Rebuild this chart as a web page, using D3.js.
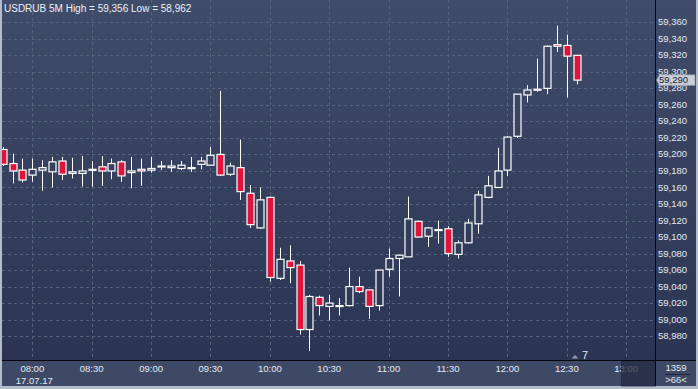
<!DOCTYPE html>
<html>
<head>
<meta charset="utf-8">
<script src="https://cdn.jsdelivr.net/npm/d3@7"></script>
<style>
  html, body { margin: 0; padding: 0; background: #b4bcc9; }
  svg { display: block; font-family: "Liberation Sans", Arial, sans-serif; }
</style>
</head>
<body>
<svg id="chart" width="698" height="389"></svg>
<script>
"use strict";

// USDRUB 5-minute candles, 17.07.17 07:45 .. 12:35
const startTime = new Date(2017, 6, 17, 7, 45);
const opens = [
  59.206, 59.189, 59.181, 59.175, 59.181, 59.179, 59.192, 59.177, 59.177, 59.181,
  59.185, 59.180, 59.191, 59.178, 59.182, 59.181, 59.186, 59.184, 59.183, 59.184,
  59.188, 59.187, 59.200, 59.176, 59.184, 59.153, 59.111, 59.148, 59.050, 59.071,
  59.066, 58.988, 59.027, 59.016, 59.017, 59.017, 59.040, 59.036, 59.017, 59.061,
  59.074, 59.076, 59.119, 59.101, 59.109, 59.110, 59.079, 59.093, 59.116, 59.148,
  59.160, 59.181, 59.222, 59.272, 59.278, 59.280, 59.333, 59.332, 59.320
];
const highs = [
  59.209, 59.201, 59.195, 59.195, 59.193, 59.197, 59.197, 59.196, 59.198, 59.192,
  59.198, 59.195, 59.193, 59.197, 59.195, 59.197, 59.192, 59.193, 59.192, 59.197,
  59.197, 59.209, 59.277, 59.190, 59.218, 59.163, 59.160, 59.149, 59.087, 59.090,
  59.071, 59.030, 59.029, 59.030, 59.026, 59.063, 59.052, 59.036, 59.060, 59.086,
  59.078, 59.149, 59.120, 59.112, 59.120, 59.113, 59.096, 59.122, 59.156, 59.174,
  59.208, 59.222, 59.273, 59.284, 59.316, 59.332, 59.356, 59.345, 59.320
];
const lows = [
  59.186, 59.165, 59.166, 59.167, 59.156, 59.160, 59.169, 59.171, 59.161, 59.161,
  59.162, 59.170, 59.167, 59.159, 59.162, 59.178, 59.181, 59.179, 59.181, 59.179,
  59.182, 59.187, 59.174, 59.174, 59.145, 59.111, 59.110, 59.046, 59.048, 59.044,
  58.982, 58.962, 59.005, 58.999, 59.005, 59.016, 59.032, 59.001, 59.011, 59.052,
  59.028, 59.076, 59.100, 59.088, 59.092, 59.076, 59.074, 59.092, 59.104, 59.147,
  59.160, 59.174, 59.220, 59.263, 59.276, 59.273, 59.324, 59.269, 59.285
];
const closes = [
  59.188, 59.180, 59.169, 59.182, 59.184, 59.191, 59.176, 59.179, 59.180, 59.182,
  59.180, 59.189, 59.174, 59.180, 59.180, 59.183, 59.186, 59.186, 59.187, 59.184,
  59.192, 59.199, 59.175, 59.186, 59.155, 59.115, 59.145, 59.051, 59.073, 59.063,
  58.988, 59.028, 59.017, 59.020, 59.017, 59.040, 59.034, 59.016, 59.060, 59.074,
  59.078, 59.122, 59.100, 59.111, 59.109, 59.080, 59.093, 59.117, 59.151, 59.162,
  59.180, 59.221, 59.273, 59.278, 59.279, 59.331, 59.331, 59.319, 59.290
];

const yTicks = [58.98, 59.00, 59.02, 59.04, 59.06, 59.08, 59.10, 59.12, 59.14, 59.16,
  59.18, 59.20, 59.22, 59.24, 59.26, 59.28, 59.30, 59.32, 59.34, 59.36];
const xTickLabels = ["08:00", "08:30", "09:00", "09:30", "10:00", "10:30",
  "11:00", "11:30", "12:00", "12:30", "13:00"];
const dateLabel = "17.07.17";
const title = "USDRUB 5M High = 59,356 Low = 58,962";
const lastPrice = 59.290;

const W = 698, H = 389;
const plot = { left: 2, right: 655.5, top: 0, bottom: 360.5 };
const frame = { right: 696, bottom: 386 };

const svg = d3.select("#chart");
const defs = svg.append("defs");

// one gradient in user space, so hollow candle bodies blend into the background
const grad = defs.append("linearGradient")
  .attr("id", "bg").attr("gradientUnits", "userSpaceOnUse")
  .attr("x1", 0).attr("y1", 0).attr("x2", 0).attr("y2", plot.bottom);
grad.append("stop").attr("offset", "0%").attr("stop-color", "#3f4c6a");
grad.append("stop").attr("offset", "100%").attr("stop-color", "#2b3553");

defs.append("clipPath").attr("id", "plotClip")
  .append("rect")
  .attr("x", plot.left).attr("y", plot.top)
  .attr("width", plot.right - plot.left).attr("height", plot.bottom - plot.top);

// outer light frame + panels
svg.append("rect").attr("width", W).attr("height", H).attr("fill", "#b4bcc9");
svg.append("rect")
  .attr("x", plot.left).attr("y", 0)
  .attr("width", frame.right - plot.left).attr("height", plot.bottom)
  .attr("fill", "url(#bg)");
svg.append("rect")
  .attr("x", plot.left).attr("y", plot.bottom)
  .attr("width", frame.right - plot.left).attr("height", frame.bottom - plot.bottom)
  .attr("fill", "#3e4a65");

const parse = d3.timeParse("%H:%M");
const toDay = s => {
  const t = parse(s);
  return new Date(2017, 6, 17, t.getHours(), t.getMinutes());
};

const x = d3.scaleTime()
  .domain([new Date(2017, 6, 17, 7, 45, 12), new Date(2017, 6, 17, 13, 14, 48)])
  .range([plot.left + 1, plot.right]);
const y = d3.scaleLinear()
  .domain([58.9505, 59.387])
  .range([plot.bottom, plot.top]);

const candles = opens.map((o, i) => ({
  t: d3.timeMinute.offset(startTime, 5 * i),
  o, h: highs[i], l: lows[i], c: closes[i]
}));

const fmt = v => d3.format(".3f")(v).replace(".", ",");

// grid
const grid = svg.append("g").attr("clip-path", "url(#plotClip)")
  .attr("stroke", "#56637f").attr("stroke-dasharray", "3,3").attr("stroke-width", 1);
grid.selectAll("line.h").data(yTicks).join("line")
  .attr("class", "h")
  .attr("x1", plot.left).attr("x2", plot.right)
  .attr("y1", d => Math.round(y(d)) + 0.5).attr("y2", d => Math.round(y(d)) + 0.5);
grid.selectAll("line.v").data(xTickLabels).join("line")
  .attr("class", "v")
  .attr("x1", d => Math.round(x(toDay(d))) + 0.5).attr("x2", d => Math.round(x(toDay(d))) + 0.5)
  .attr("y1", plot.top).attr("y2", plot.bottom);

// candles
const bodyW = 7;
const cg = svg.append("g").attr("clip-path", "url(#plotClip)");
const g = cg.selectAll("g.candle").data(candles).join("g").attr("class", "candle")
  .attr("transform", d => `translate(${Math.round(x(d.t)) + 0.5},0)`);
g.append("line")
  .attr("y1", d => y(d.h)).attr("y2", d => y(d.l))
  .attr("stroke", "#ffffff").attr("stroke-width", 1);
g.append("rect")
  .attr("x", -bodyW / 2)
  .attr("y", d => y(Math.max(d.o, d.c)))
  .attr("width", bodyW)
  .attr("height", d => Math.max(1, Math.abs(y(d.o) - y(d.c))))
  .attr("fill", d => d.c < d.o ? "#de143d" : "url(#bg)")
  .attr("stroke", "#ffffff").attr("stroke-width", 1.2);

// y axis labels (right)
svg.append("g").selectAll("text").data(yTicks).join("text")
  .attr("x", 658).attr("y", d => y(d))
  .attr("dy", "0.32em")
  .attr("fill", "#e4e9f2").attr("font-size", 9.5)
  .text(fmt);

// x axis labels
const xl = svg.append("g").attr("fill", "#e4e9f2").attr("font-size", 9.5)
  .attr("text-anchor", "middle");
xl.selectAll("text").data(xTickLabels).join("text")
  .attr("x", d => x(toDay(d))).attr("y", 371.5)
  .text(d => d);
xl.append("text").attr("x", x(toDay(xTickLabels[0])) + 2).attr("y", 383.5).text(dateLabel);

// dark scroll block over the last label
svg.append("rect")
  .attr("x", 621.5).attr("y", plot.bottom)
  .attr("width", plot.right - 621.5).attr("height", frame.bottom - plot.bottom)
  .attr("fill", "#222b42").attr("opacity", 0.75)
  .attr("stroke", "#1c2336").attr("stroke-width", 1);

// borders
svg.append("line")
  .attr("x1", plot.right).attr("x2", plot.right).attr("y1", 0).attr("y2", frame.bottom)
  .attr("stroke", "#05070c").attr("stroke-width", 1);
svg.append("line")
  .attr("x1", plot.left).attr("x2", frame.right).attr("y1", plot.bottom).attr("y2", plot.bottom)
  .attr("stroke", "#05070c").attr("stroke-width", 1);

// bottom-right counter box
const info = svg.append("g").attr("fill", "#e4e9f2").attr("font-size", 9.5)
  .attr("text-anchor", "middle");
info.append("text").attr("x", 676).attr("y", 370.5).text("1359");
info.append("line").attr("x1", 665).attr("x2", 690).attr("y1", 374.5).attr("y2", 374.5)
  .attr("stroke", "#1e2538").attr("stroke-width", 1);
info.append("text").attr("x", 676).attr("y", 383).text(">66<");

// small marker near the last bar
svg.append("path")
  .attr("d", `M${571.5},358.5L${575},355L${578.5},358.5Z`)
  .attr("fill", "#8c96aa");
svg.append("text").attr("x", 582).attr("y", 359)
  .attr("fill", "#dfe6f2").attr("font-size", 11).text("7");

// last price tag
const py = y(lastPrice);
svg.append("path")
  .attr("d", `M${plot.right + 1},${py}L${plot.right + 4},${py - 5.3}L${695},${py - 5.3}L${695},${py + 5.3}L${plot.right + 4},${py + 5.3}Z`)
  .attr("fill", "#c9ced8").attr("stroke", "#8a92a2").attr("stroke-width", 0.6);
svg.append("text").attr("x", 659).attr("y", py).attr("dy", "0.35em")
  .attr("fill", "#1b2132").attr("font-size", 9.5).text(fmt(lastPrice));

// title
svg.append("text").attr("x", 4).attr("y", 12)
  .attr("fill", "#eef1f6").attr("font-size", 10)
  .text(title);
</script>
</body>
</html>
